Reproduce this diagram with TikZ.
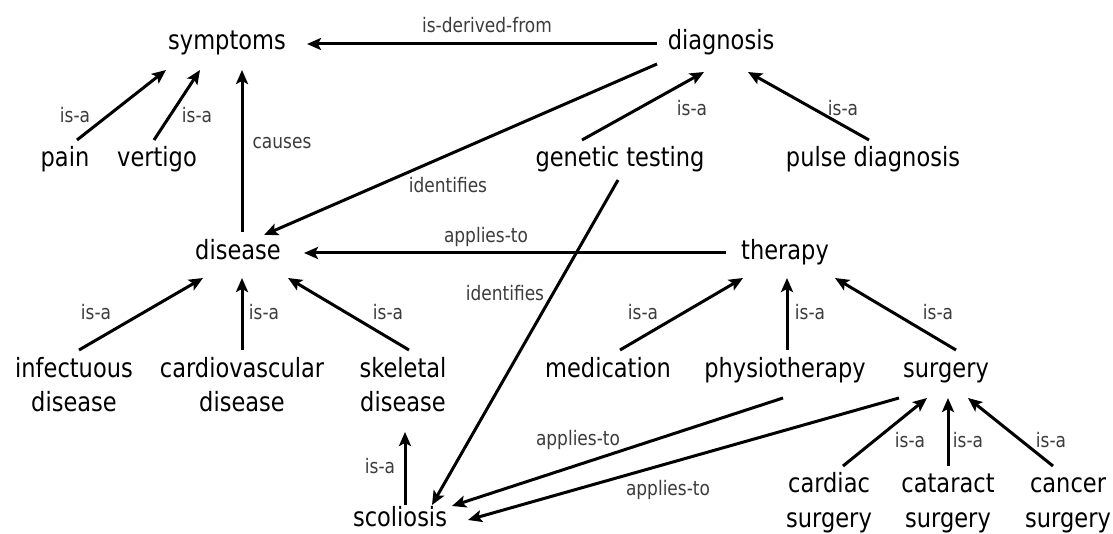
\documentclass[tikz,border=0pt]{standalone}
\usepackage{fontspec}
\setmainfont{DejaVu Sans}[FakeStretch=0.85]
\usetikzlibrary{arrows.meta}
\definecolor{labelgray}{RGB}{60,60,60}
\newcommand{\twoline}[2]{\begin{tabular}[t]{@{}c@{}}#1\\#2\end{tabular}}
\begin{document}
\begin{tikzpicture}[x=1pt,y=-1pt,
  concept/.style={inner sep=0pt, anchor=base, font=\fontsize{26.5}{35}\selectfont},
  rel/.style={inner sep=0pt, font=\fontsize{20}{24}\selectfont, text=labelgray},
  arr/.style={line width=3pt, -{Stealth[length=14pt,width=12pt,inset=3pt]}}]
\useasboundingbox[fill=white] (0,0) rectangle (1113,534);

% concepts
\node[concept] (symptoms) at (227,50) {symptoms};
\node[concept] (diagnosis) at (721,50) {diagnosis};
\node[concept] (pain) at (65,167) {pain};
\node[concept] (vertigo) at (157,167) {vertigo};
\node[concept] (gen) at (620,167) {genetic testing};
\node[concept] (pulse) at (873,167) {pulse diagnosis};
\node[concept] (disease) at (238,260) {disease};
\node[concept] (therapy) at (785,260) {therapy};
\node[concept] (infect) at (74,377) {\twoline{infectuous}{disease}};
\node[concept] (cardio) at (242,377) {\twoline{cardiovascular}{disease}};
\node[concept] (skeletal) at (403,377) {\twoline{skeletal}{disease}};
\node[concept] (med) at (608,377) {medication};
\node[concept] (physio) at (785,377) {physiotherapy};
\node[concept] (surgery) at (946,377) {surgery};
\node[concept] (scoliosis) at (400,526) {scoliosis};
\node[concept] (cardiac) at (829,492) {\twoline{cardiac}{surgery}};
\node[concept] (cataract) at (948,492) {\twoline{cataract}{surgery}};
\node[concept] (cancer) at (1068,492) {\twoline{cancer}{surgery}};

% relations
\draw[arr] ([shift={(-64,-6)}]diagnosis.base) -- ([shift={(80,-6)}]symptoms.base);
\draw[arr] ([shift={(12,-27)}]pain.base) -- ([shift={(-61,20)}]symptoms.base);
\draw[arr] ([shift={(-3,-27)}]vertigo.base) -- ([shift={(-27,20)}]symptoms.base);
\draw[arr] ([shift={(4,-28)}]disease.base) -- ([shift={(15,20)}]symptoms.base);
\draw[arr] ([shift={(-64,14)}]diagnosis.base) -- ([shift={(26,-25)}]disease.base);
\draw[arr] ([shift={(-38,-27)}]gen.base) -- ([shift={(-17,22)}]diagnosis.base);
\draw[arr] ([shift={(-4,-27)}]pulse.base) -- ([shift={(27,22)}]diagnosis.base);
\draw[arr] ([shift={(-59,-7)}]therapy.base) -- ([shift={(66,-7)}]disease.base);
\draw[arr] ([shift={(-2,13)}]gen.base) -- ([shift={(32,-21)}]scoliosis.base);
\draw[arr] ([shift={(5,-27)}]infect.base) -- ([shift={(-35,18)}]disease.base);
\draw[arr] ([shift={(0,-27)}]cardio.base) -- ([shift={(4,18)}]disease.base);
\draw[arr] ([shift={(6,-27)}]skeletal.base) -- ([shift={(50,18)}]disease.base);
\draw[arr] ([shift={(12,-27)}]med.base) -- ([shift={(-42,18)}]therapy.base);
\draw[arr] ([shift={(2,-27)}]physio.base) -- ([shift={(2,18)}]therapy.base);
\draw[arr] ([shift={(10,-27)}]surgery.base) -- ([shift={(50,18)}]therapy.base);
\draw[arr] ([shift={(5,-21)}]scoliosis.base) -- ([shift={(2,55)}]skeletal.base);
\draw[arr] ([shift={(-2,21)}]physio.base) -- ([shift={(52,-20)}]scoliosis.base);
\draw[arr] ([shift={(-47,21)}]surgery.base) -- ([shift={(68,-6)}]scoliosis.base);
\draw[arr] ([shift={(14,-26)}]cardiac.base) -- ([shift={(-19,21)}]surgery.base);
\draw[arr] ([shift={(0,-26)}]cataract.base) -- ([shift={(2,21)}]surgery.base);
\draw[arr] ([shift={(-15,-26)}]cancer.base) -- ([shift={(22,21)}]surgery.base);

% relation labels
\node[rel] (l1) at (487,25) {is-derived-from};
\node[rel] (l2) at (75,115) {is-a};
\node[rel] (l3) at (197,115) {is-a};
\node[rel] (l4) at (282,143) {causes};
\node[rel] (l5) at (448,185) {identifies};
\node[rel] (l6) at (692,108) {is-a};
\node[rel] (l7) at (843,108) {is-a};
\node[rel] (l8) at (486,237) {applies-to};
\node[rel] (l9) at (505,293) {identifies};
\node[rel] (l10) at (96,312) {is-a};
\node[rel] (l11) at (264,312) {is-a};
\node[rel] (l12) at (388,312) {is-a};
\node[rel] (l13) at (643,312) {is-a};
\node[rel] (l14) at (810,312) {is-a};
\node[rel] (l15) at (938,312) {is-a};
\node[rel] (l16) at (380,466) {is-a};
\node[rel] (l17) at (578,440) {applies-to};
\node[rel] (l18) at (668,490) {applies-to};
\node[rel] (l19) at (910,440) {is-a};
\node[rel] (l20) at (968,440) {is-a};
\node[rel] (l21) at (1051,440) {is-a};
\end{tikzpicture}
\end{document}
